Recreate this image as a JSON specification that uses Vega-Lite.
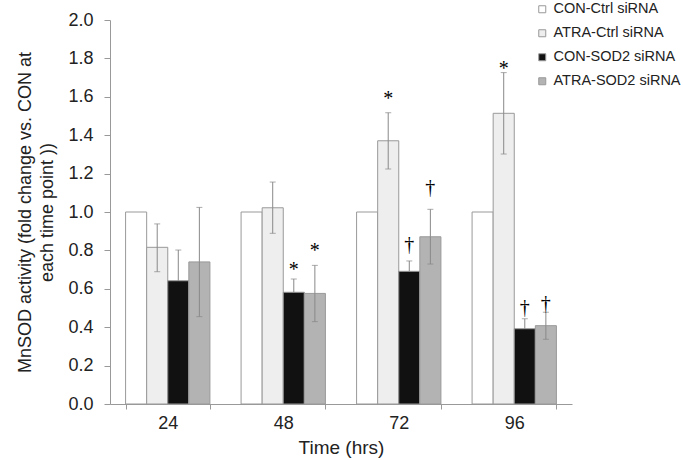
{
  "$schema": "https://vega.github.io/schema/vega-lite/v6.json",
  "autosize": "none",
  "width": 462,
  "height": 384,
  "padding": {"left": 110, "top": 20, "right": 111, "bottom": 56},
  "background": "white",
  "config": {
    "view": {"stroke": null},
    "font": "Liberation Sans",
    "axis": {"domainColor": "#999999", "tickColor": "#999999", "labelColor": "#222222", "titleColor": "#222222", "labelFont": "Liberation Sans", "titleFont": "Liberation Sans", "grid": false},
    "axisY": {"tickCount": 10, "labelOverlap": false}
  },
  "data": {
    "values": [
      {"time": "24", "group": "CON-Ctrl siRNA", "value": 1.0, "lo": null, "hi": null, "sig": null, "sig_y": null},
      {"time": "24", "group": "ATRA-Ctrl siRNA", "value": 0.816, "lo": 0.689, "hi": 0.938, "sig": null, "sig_y": null},
      {"time": "24", "group": "CON-SOD2 siRNA", "value": 0.642, "lo": null, "hi": 0.802, "sig": null, "sig_y": null},
      {"time": "24", "group": "ATRA-SOD2 siRNA", "value": 0.74, "lo": 0.455, "hi": 1.024, "sig": null, "sig_y": null},
      {"time": "48", "group": "CON-Ctrl siRNA", "value": 1.0, "lo": null, "hi": null, "sig": null, "sig_y": null},
      {"time": "48", "group": "ATRA-Ctrl siRNA", "value": 1.022, "lo": 0.889, "hi": 1.156, "sig": null, "sig_y": null},
      {"time": "48", "group": "CON-SOD2 siRNA", "value": 0.582, "lo": null, "hi": 0.651, "sig": "*", "sig_y": 0.7},
      {"time": "48", "group": "ATRA-SOD2 siRNA", "value": 0.576, "lo": 0.429, "hi": 0.722, "sig": "*", "sig_y": 0.795},
      {"time": "72", "group": "CON-Ctrl siRNA", "value": 1.0, "lo": null, "hi": null, "sig": null, "sig_y": null},
      {"time": "72", "group": "ATRA-Ctrl siRNA", "value": 1.371, "lo": 1.224, "hi": 1.517, "sig": "*", "sig_y": 1.59},
      {"time": "72", "group": "CON-SOD2 siRNA", "value": 0.691, "lo": null, "hi": 0.745, "sig": "†", "sig_y": 0.83},
      {"time": "72", "group": "ATRA-SOD2 siRNA", "value": 0.871, "lo": 0.729, "hi": 1.014, "sig": "†", "sig_y": 1.125},
      {"time": "96", "group": "CON-Ctrl siRNA", "value": 1.0, "lo": null, "hi": null, "sig": null, "sig_y": null},
      {"time": "96", "group": "ATRA-Ctrl siRNA", "value": 1.514, "lo": 1.302, "hi": 1.726, "sig": "*", "sig_y": 1.745},
      {"time": "96", "group": "CON-SOD2 siRNA", "value": 0.392, "lo": null, "hi": 0.444, "sig": "†", "sig_y": 0.5},
      {"time": "96", "group": "ATRA-SOD2 siRNA", "value": 0.408, "lo": 0.337, "hi": 0.478, "sig": "†", "sig_y": 0.52}
    ]
  },
  "encoding": {
    "x": {
      "field": "time", "type": "nominal", "sort": ["24", "48", "72", "96"],
      "scale": {"paddingInner": 0.27, "paddingOuter": 0.135},
      "axis": {"title": "Time (hrs)", "labelAngle": 0, "labelFontSize": 18, "titleFontSize": 19, "titleFontWeight": "normal", "tickBand": "extent", "tickSize": 5, "labelPadding": 5, "titlePadding": 6}
    },
    "xOffset": {
      "field": "group", "type": "nominal",
      "sort": ["CON-Ctrl siRNA", "ATRA-Ctrl siRNA", "CON-SOD2 siRNA", "ATRA-SOD2 siRNA"],
      "scale": {"paddingInner": 0, "paddingOuter": 0}
    }
  },
  "layer": [
    {
      "mark": {"type": "bar", "stroke": "#999999", "strokeWidth": 1},
      "encoding": {
        "y": {
          "field": "value", "type": "quantitative",
          "scale": {"domain": [0, 2], "nice": false},
          "axis": {
            "title": ["MnSOD activity (fold change vs. CON at", "each time point ))"],
            "format": ".1f", "labelFontSize": 18, "titleFontSize": 18, "titleFontWeight": "normal",
            "tickSize": 6, "labelPadding": 11, "titlePadding": 11, "titleLineHeight": 22
          }
        },
        "color": {
          "field": "group", "type": "nominal",
          "sort": ["CON-Ctrl siRNA", "ATRA-Ctrl siRNA", "CON-SOD2 siRNA", "ATRA-SOD2 siRNA"],
          "scale": {"domain": ["CON-Ctrl siRNA", "ATRA-Ctrl siRNA", "CON-SOD2 siRNA", "ATRA-SOD2 siRNA"], "range": ["#ffffff", "#eeeeee", "#111111", "#b3b3b3"]},
          "legend": {
            "title": null, "orient": "none", "legendX": 425, "legendY": -18,
            "symbolType": "square", "symbolSize": 49, "symbolStrokeColor": "#999999", "symbolStrokeWidth": 1,
            "labelFontSize": 14.5, "labelColor": "#222222", "rowPadding": 9, "labelOffset": 4
          }
        }
      }
    },
    {
      "transform": [{"filter": "datum.hi != null"}],
      "mark": {"type": "rule", "color": "#888888", "strokeWidth": 1},
      "encoding": {"y": {"field": "value", "type": "quantitative"}, "y2": {"field": "hi"}}
    },
    {
      "transform": [{"filter": "datum.lo != null"}],
      "mark": {"type": "rule", "color": "#888888", "strokeWidth": 1},
      "encoding": {"y": {"field": "lo", "type": "quantitative"}, "y2": {"field": "value"}}
    },
    {
      "transform": [{"filter": "datum.hi != null"}],
      "mark": {"type": "tick", "color": "#888888", "thickness": 1, "size": 6, "orient": "horizontal"},
      "encoding": {"y": {"field": "hi", "type": "quantitative"}}
    },
    {
      "transform": [{"filter": "datum.lo != null"}],
      "mark": {"type": "tick", "color": "#888888", "thickness": 1, "size": 6, "orient": "horizontal"},
      "encoding": {"y": {"field": "lo", "type": "quantitative"}}
    },
    {
      "transform": [{"filter": "datum.sig != null"}],
      "mark": {"type": "text", "fontSize": 20, "font": "Liberation Serif", "color": "#000000", "baseline": "middle"},
      "encoding": {"y": {"field": "sig_y", "type": "quantitative"}, "text": {"field": "sig"}}
    }
  ]
}
